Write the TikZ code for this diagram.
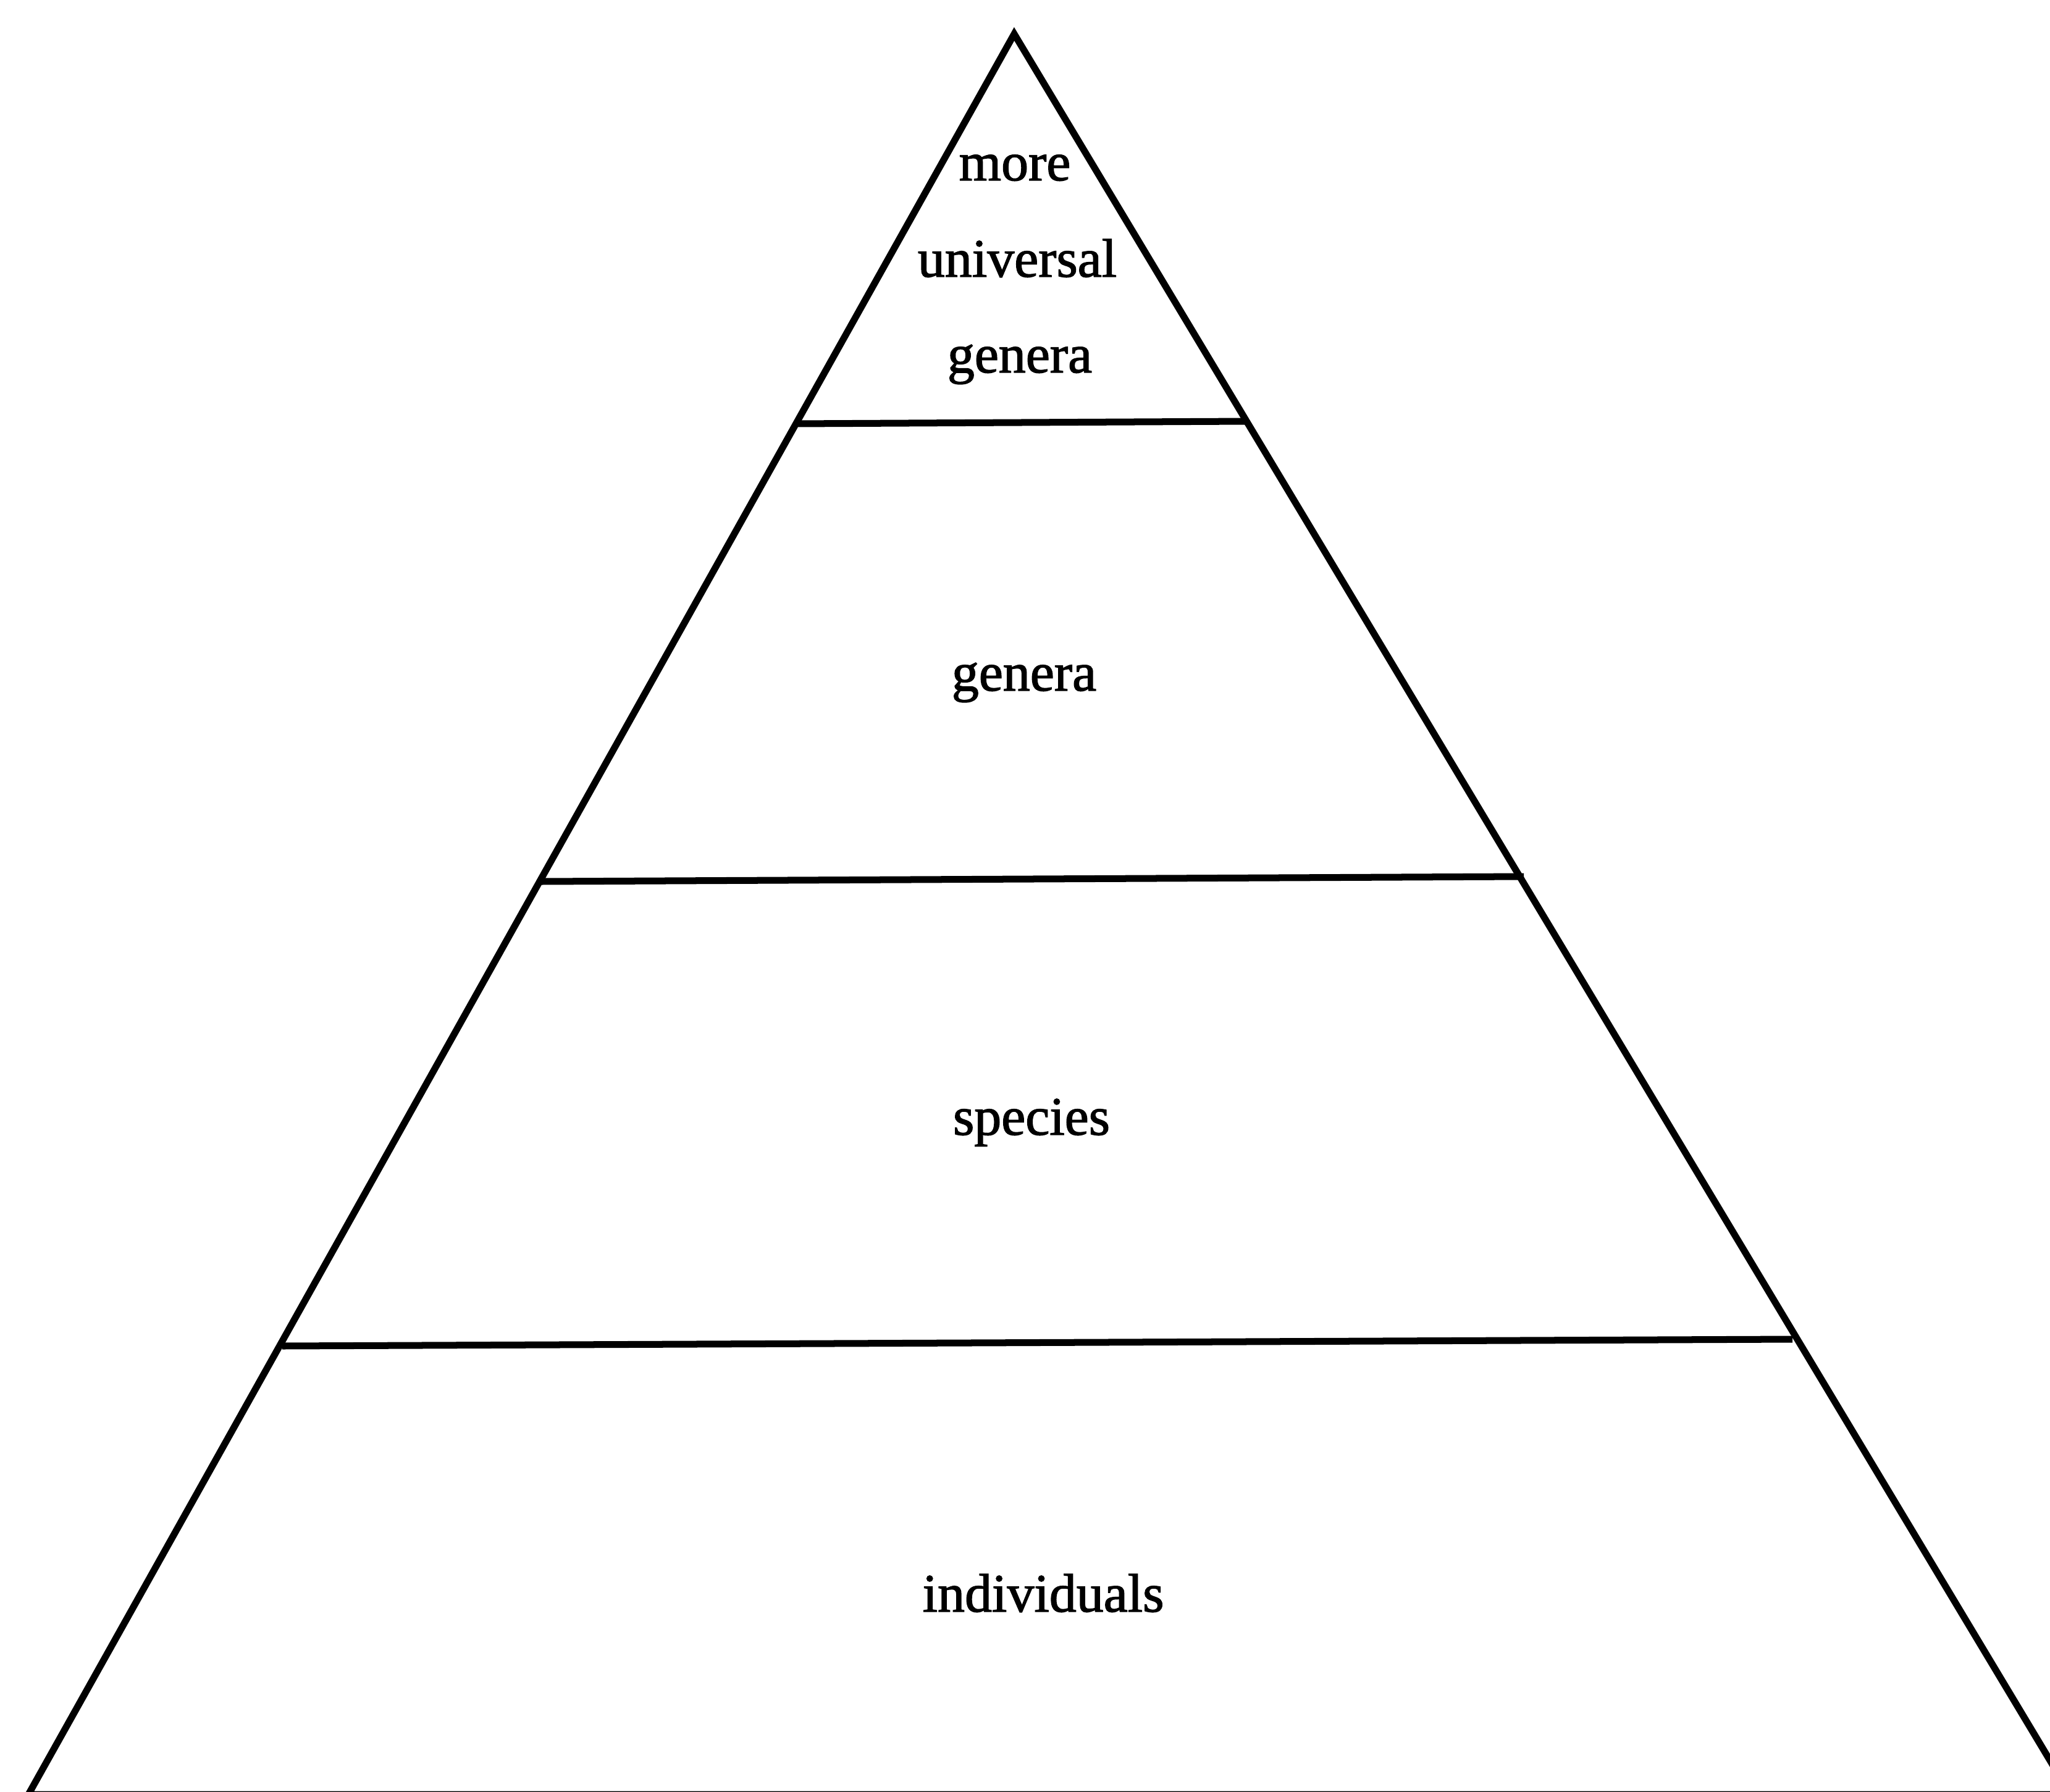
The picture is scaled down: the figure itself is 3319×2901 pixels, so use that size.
\documentclass[tikz,border=0pt]{standalone}
\usepackage{fontspec}
\setmainfont{Liberation Serif}[FakeBold=1.6]
\usetikzlibrary{positioning, calc}
\tikzset{
    pyrline/.style={draw=black, line width=1.1mm, line join=miter},
    tiertext/.style={anchor=base, inner sep=0pt, font=\fontsize{25}{30}\selectfont}
}

\begin{document}
\begin{tikzpicture}[x=0.01cm, y=-0.01cm]
        \useasboundingbox (0,0) rectangle (3319,2901);
        \clip (0,0) rectangle (3319,2901);

        % Outline
        \coordinate (apex) at (1642,55);
        \coordinate (bl) at (46,2905);
        \coordinate (br) at (3352,2905);
        \draw[pyrline] (bl) -- (apex) -- (br) -- cycle;

        % Tier borders
        \coordinate (l1) at (1290,686);  \coordinate (r1) at (2020,682);
        \coordinate (l2) at (877,1427);  \coordinate (r2) at (2467,1419);
        \coordinate (l3) at (457,2179);  \coordinate (r3) at (2902,2168);
        \draw[pyrline] (l1) -- (r1);
        \draw[pyrline] (l2) -- (r2);
        \draw[pyrline] (l3) -- (r3);

        % Tier labels
        \node[tiertext] (more) at (1643,292) {more};
        \node[tiertext] (universal) at (1647,448) {universal};
        \node[tiertext] (topgenera) at (1651,603) {genera};
        \node[tiertext] (genera) at (1658,1118) {genera};
        \node[tiertext] (species) at (1670,1837) {species};
        \node[tiertext] (individuals) at (1689,2609) {individuals};
    \end{tikzpicture}
\end{document}
